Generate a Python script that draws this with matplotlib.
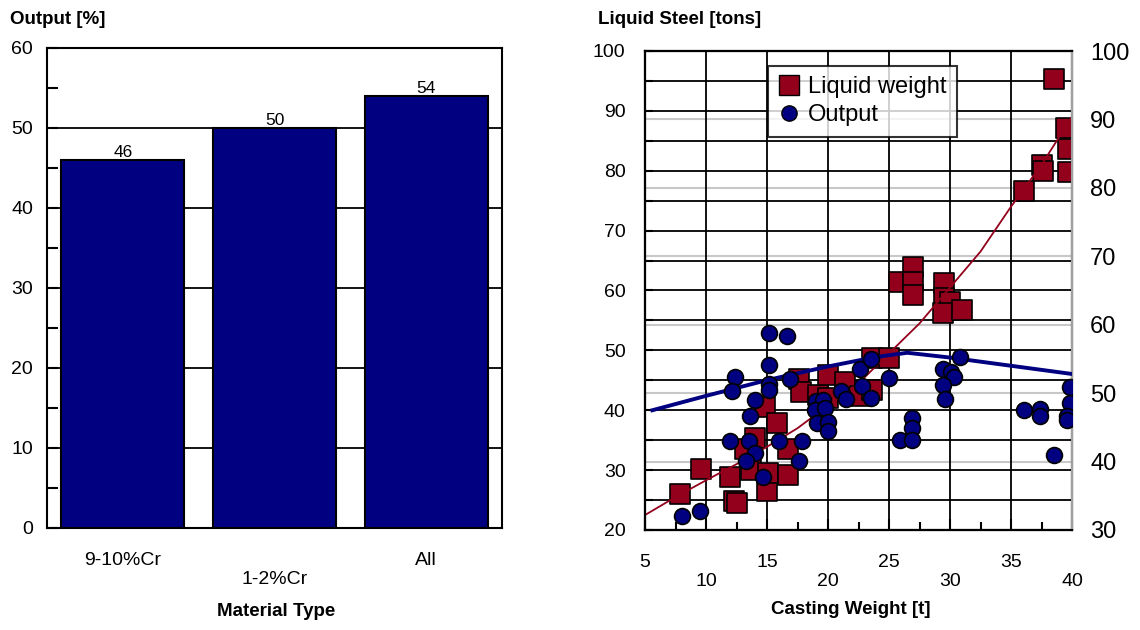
import matplotlib.pyplot as plt
from matplotlib.ticker import MultipleLocator
from matplotlib.lines import Line2D

plt.rcParams['font.family'] = ['Liberation Sans', 'DejaVu Sans']

# ==========================================
# Data
# ==========================================
categories = ['9-10%Cr', '1-2%Cr', 'All']
output_pct = [46, 50, 54]

# Liquid weight [tons] vs casting weight [t] (left axis)
liquid_x = [7.9, 9.6, 12.0, 12.3, 12.5, 13.2, 14.0, 13.7, 14.8, 15.0,
            15.1, 15.8, 16.7, 16.7, 17.6, 17.8, 19.2, 20.0, 20.0, 21.4,
            22.6, 23.6, 23.6, 25.0, 25.8, 27.0, 27.0, 27.0, 29.5, 29.5,
            30.0, 29.45, 30.95, 36.1, 37.5, 37.6, 38.5, 39.5, 39.7, 39.7]
liquid_y = [26.0, 30.2, 28.9, 24.8, 24.5, 33.6, 35.3, 30.0, 40.6, 26.5,
            29.5, 37.9, 33.6, 29.2, 45.3, 43.0, 42.5, 42.0, 45.9, 44.8,
            42.3, 48.8, 43.4, 48.7, 61.5, 64.0, 61.5, 59.2, 61.2, 58.7,
            58.1, 56.2, 56.7, 76.6, 80.9, 80.0, 95.3, 87.1, 83.6, 79.8]

# Output [%] vs casting weight [t] (right axis)
output_x = [8.0, 9.5, 12.4, 12.1, 14.0, 13.6, 12.0, 13.5, 14.0, 13.3,
            14.7, 15.2, 15.2, 15.2, 15.2, 16.6, 16.9, 16.0, 17.9, 17.6,
            19.0, 19.6, 18.9, 19.75, 19.1, 20.0, 20.0, 22.6, 23.5, 21.1,
            21.5, 22.8, 23.5, 25.0, 30.8, 29.45, 30.1, 30.3, 29.45, 29.6,
            26.9, 26.9, 25.9, 26.9, 36.1, 37.4, 37.4, 38.5, 39.8, 39.8,
            39.6, 39.6]
output_y = [32.0, 32.8, 52.3, 50.3, 49.0, 46.7, 43.0, 43.0, 41.2, 40.1,
            37.8, 58.8, 54.1, 51.3, 50.5, 58.4, 52.1, 43.0, 43.0, 40.1,
            48.9, 49.0, 47.5, 47.8, 45.6, 45.8, 44.5, 53.5, 55.0, 50.3,
            49.1, 51.0, 49.3, 52.2, 55.3, 53.6, 53.1, 52.4, 51.2, 49.1,
            46.3, 44.9, 43.1, 43.1, 47.6, 47.7, 46.7, 41.0, 50.9, 48.6,
            46.7, 46.1]

# trend lines
liquid_trend_x = [5, 7.5, 10, 12.5, 15, 17.5, 20, 22.5, 25, 27.5, 30, 32.5, 35, 37.5, 40]
liquid_trend_y = [22.5, 25.5, 28.3, 31.0, 33.9, 37.0, 40.8, 44.5, 49.5, 54.5, 60.5, 66.5, 74.0, 81.0, 89.0]
output_trend_x = [5.6, 10, 15, 20, 24, 26.5, 30, 35, 40]
output_trend_y = [47.5, 49.6, 51.9, 53.9, 55.3, 55.9, 55.2, 54.0, 52.8]

NAVY = '#000080'
DARK_RED = '#93001c'

fig = plt.figure(figsize=(11.4, 6.3), dpi=100)
W, H = 1140, 630

# ==========================================
# Left: bar chart
# ==========================================
ax1 = fig.add_axes([47 / W, 1 - 528 / H, 455 / W, 480 / H])
pos = list(range(len(categories)))
bars = ax1.bar(pos, output_pct, width=0.81, color=NAVY, edgecolor='black',
               linewidth=1.5, zorder=3)
ax1.bar_label(bars, fontsize=12.5, padding=0)
ax1.set_xlim(-0.5, 2.5)
ax1.set_ylim(0, 60)
ax1.set_yticks(range(0, 61, 10))
ax1.yaxis.set_minor_locator(MultipleLocator(5))
ax1.grid(axis='y', which='major', color='black', linewidth=1.3)
ax1.set_axisbelow(True)
ax1.set_xticks(pos)
ax1.set_xticklabels([c if i % 2 == 0 else '\n' + c for i, c in enumerate(categories)])
ax1.tick_params(axis='x', direction='in', length=8, width=1.5, labelsize=14, pad=17)
ax1.tick_params(axis='y', which='both', direction='in', length=8, width=1.5,
                labelsize=14, pad=10)
for s in ax1.spines.values():
    s.set_linewidth(1.5)

fig.text(10 / W, 1 - 20 / H, 'Output [%]', fontsize=13.5, fontweight='bold', va='center')
fig.text(276 / W, 1 - 612 / H, 'Material Type', fontsize=13.5, fontweight='bold',
         ha='center', va='center')

# ==========================================
# Right: scatter with two y axes
# ==========================================
rect = [645 / W, 1 - 530 / H, 427 / W, 479 / H]
ax = fig.add_axes(rect)
axg = ax.twinx()   # grey grid of the right axis, kept behind the data
axr = ax.twinx()   # output points
axg.set_zorder(0)
ax.set_zorder(1)
axr.set_zorder(2)
ax.patch.set_visible(False)
axr.patch.set_visible(False)

ax.set_xlim(5, 40)
ax.set_ylim(20, 100)
ax.set_xticks(range(5, 41, 5))
ax.xaxis.set_minor_locator(MultipleLocator(2.5))
ax.set_xticklabels([str(v) if i % 2 == 0 else '\n' + str(v)
                    for i, v in enumerate(range(5, 41, 5))])
ax.set_yticks(range(20, 101, 10))
ax.yaxis.set_minor_locator(MultipleLocator(5))
ax.grid(axis='x', which='major', color='black', linewidth=1.3)
ax.grid(axis='y', which='both', color='black', linewidth=1.3)
ax.set_axisbelow(True)
ax.tick_params(axis='x', which='major', direction='in', length=8, width=1.5,
               labelsize=14, pad=17)
ax.tick_params(axis='x', which='minor', direction='in', length=6, width=1.5)
ax.tick_params(axis='y', which='both', direction='in', length=6, width=1.5,
               labelsize=14, pad=14)

axg.set_ylim(30, 100)
axg.set_yticks(range(40, 91, 10))
axg.grid(axis='y', color='#c8c8c8', linewidth=1.5)
axg.tick_params(axis='y', length=0, labelright=False)

axr.set_ylim(30, 100)
axr.set_yticks(range(30, 101, 10))
axr.tick_params(axis='y', length=0, labelsize=17, pad=13)

for a in (ax, axg, axr):
    for s in a.spines.values():
        s.set_linewidth(1.5)
        s.set_color('black')
axr.spines['right'].set_color('#a0a0a0')

ax.scatter(liquid_x, liquid_y, marker='s', s=200, color=DARK_RED,
           edgecolor='black', linewidth=1.2, zorder=3)
ax.plot(liquid_trend_x, liquid_trend_y, color=DARK_RED, linewidth=1.3, zorder=4)
axr.plot(output_trend_x, output_trend_y, color=NAVY, linewidth=2.8, zorder=3)
axr.scatter(output_x, output_y, marker='o', s=130, color=NAVY,
            edgecolor='black', linewidth=1.2, zorder=4)

handles = [Line2D([], [], marker='s', linestyle='none', markersize=15,
                  markerfacecolor=DARK_RED, markeredgecolor='black'),
           Line2D([], [], marker='o', linestyle='none', markersize=11,
                  markerfacecolor=NAVY, markeredgecolor='black')]
leg = axr.legend(handles, ['Liquid weight', 'Output'], loc='upper left',
                 bbox_to_anchor=(0.288, 0.969), fontsize=17, frameon=True,
                 fancybox=False, borderpad=0.45, labelspacing=0.25,
                 handlelength=0.9, handletextpad=0.35, borderaxespad=0)
leg.get_frame().set_edgecolor('black')
leg.get_frame().set_linewidth(1.5)

fig.text(598 / W, 1 - 20 / H, 'Liquid Steel [tons]', fontsize=13.5, fontweight='bold',
         va='center')
fig.text(851 / W, 1 - 610 / H, 'Casting Weight [t]', fontsize=13.5, fontweight='bold',
         ha='center', va='center')

fig.savefig('out.png', dpi=100)
